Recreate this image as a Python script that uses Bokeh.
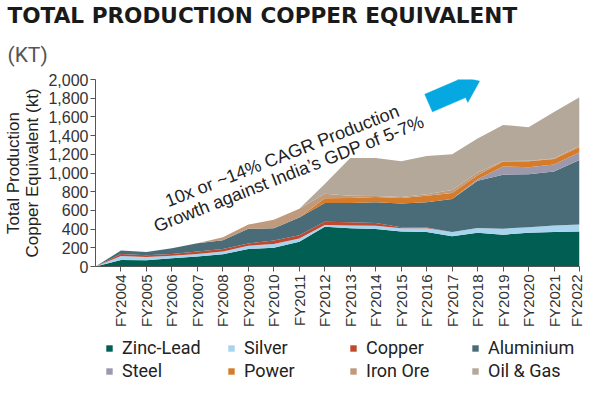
from math import pi, radians
from bokeh.plotting import figure
from bokeh.layouts import column
from bokeh.models import (ColumnDataSource, Range1d, FixedTicker, NumeralTickFormatter,
                          Legend, LegendItem, Label, Title)
from bokeh.embed import file_html
from bokeh.resources import INLINE

# ---------------- data ----------------
years = list(range(2003, 2023))
tick_years = list(range(2004, 2023))
tick_labels = ["FY%d" % y for y in tick_years]

zinc_lead = [0, 70, 66, 87, 108, 132, 188, 201, 264, 424, 410, 400, 375, 368, 323, 361, 340, 361, 368, 375]
silver    = [0, 41, 35, 28, 27, 28, 34, 39, 35, 20, 28, 35, 35, 40, 45, 52, 65, 59, 70, 73]
copper    = [0, 22, 18, 18, 25, 28, 25, 38, 34, 35, 34, 30, 10, 10, 0, 0, 0, 0, 0, 0]
aluminium = [0, 38, 35, 63, 90, 93, 156, 132, 191, 201, 208, 223, 254, 270, 354, 504, 577, 566, 579, 691]
steel     = [0, 0, 0, 0, 0, 0, 0, 0, 0, 0, 0, 0, 0, 0, 0, 15, 88, 76, 73, 83]
power     = [0, 0, 0, 0, 0, 0, 0, 0, 0, 49, 52, 55, 59, 69, 63, 45, 52, 63, 59, 56]
iron_ore  = [0, 0, 0, 0, 0, 31, 45, 90, 94, 49, 25, 10, 10, 15, 34, 28, 5, 5, 5, 15]
oil_gas   = [0, 0, 0, 0, 0, 0, 0, 0, 0, 104, 403, 408, 382, 409, 382, 364, 387, 360, 499, 516]

series_names = ["Zinc-Lead", "Silver", "Copper", "Aluminium", "Steel", "Power", "Iron Ore", "Oil & Gas"]
series_keys = ["zinc_lead", "silver", "copper", "aluminium", "steel", "power", "iron_ore", "oil_gas"]
series_colors = ["#005e52", "#a8d4f0", "#c0482d", "#4a6c78", "#9c99ad", "#d67b29", "#c09a7c", "#b3a89a"]

title_text = "TOTAL PRODUCTION COPPER EQUIVALENT"
unit_text = "(KT)"
y_label = "Total Production\nCopper Equivalent (kt)"
note_lines = ["10x or ~14% CAGR Production", "Growth against India\u2019s GDP of 5-7%"]

source = ColumnDataSource(dict(year=years, zinc_lead=zinc_lead, silver=silver, copper=copper,
                               aluminium=aluminium, steel=steel, power=power,
                               iron_ore=iron_ore, oil_gas=oil_gas))

# ---------------- main figure ----------------
W, H1, H2 = 584, 330, 51
BL, BR = 85, 5

p = figure(width=W, height=H1, x_range=Range1d(2003, 2022), y_range=Range1d(0, 2000),
           output_backend="svg", toolbar_location=None, title=None,
           min_border_left=BL, min_border_right=BR, min_border_top=0, min_border_bottom=0)
p.outline_line_color = None
p.grid.visible = False
p.background_fill_color = "white"
p.border_fill_color = "white"

renderers = p.varea_stack(stackers=series_keys, x="year", color=series_colors, source=source)

# axes
axis_col = "#555555"
for ax in (p.xaxis[0], p.yaxis[0]):
    ax.axis_line_color = axis_col
    ax.major_tick_line_color = axis_col
    ax.minor_tick_line_color = None
    ax.major_tick_in = 0
    ax.major_tick_out = 5
    ax.major_label_text_color = "#333333"
    ax.major_label_text_font = "Liberation Sans"

p.xaxis.ticker = FixedTicker(ticks=tick_years)
p.xaxis.major_label_overrides = {y: l for y, l in zip(tick_years, tick_labels)}
p.xaxis.major_label_orientation = pi / 2
p.xaxis.major_label_text_font_size = "15px"
p.xaxis.major_label_standoff = 3

p.yaxis.ticker = FixedTicker(ticks=list(range(0, 2001, 200)))
p.yaxis.formatter = NumeralTickFormatter(format="0,0")
p.yaxis.major_label_text_font_size = "16px"
p.yaxis.major_label_standoff = 2
p.yaxis.axis_label = y_label
p.yaxis.axis_label_text_font = "Liberation Sans"
p.yaxis.axis_label_text_font_style = "normal"
p.yaxis.axis_label_text_font_size = "17px"
p.yaxis.axis_label_text_color = "#222222"
p.yaxis.axis_label_standoff = 3
p.yaxis.axis_label_text_line_height = 1.05

# titles (first added sits nearest the plot)
t_unit = Title(text=unit_text, align="left", offset=-BL - 3, text_font="Roboto", text_font_style="normal",
               text_font_size="21px", text_color="#555555", standoff=26)
t_main = Title(text=title_text, align="left", offset=-BL - 3, text_font="DejaVu Sans",
               text_font_style="bold", text_font_size="21.6px", text_color="#1a1a1a", standoff=0)
p.add_layout(t_unit, "above")
p.add_layout(t_main, "above")

# reference-pixel helper for decorations (reference frame: x 93..587, y 272..80)
def px(xp, yp):
    return 2003 + (xp - 93) / 26.0, (272 - yp) * 2000 / 192.0

# annotation text
ang = radians(21.5)
for (cx, cy), txt in zip([(283.5, 158.5), (290.5, 177.0)], note_lines):
    dx, dy = px(cx, cy)
    p.add_layout(Label(x=dx, y=dy, text=txt, angle=ang, text_align="center", text_baseline="middle",
                       text_font="Liberation Sans", text_font_size="18px", text_color="#222222"))

# block arrow
arrow_px = [(436.9, 113.2), (470.8, 98.5), (473.0, 103.5), (485.0, 81.7),
            (460.8, 75.5), (463.0, 80.5), (429.1, 95.2)]
ax_, ay_ = zip(*[px(a, b) for a, b in arrow_px])
p.patch(list(ax_), list(ay_), fill_color="#05a8e0", line_color="#05a8e0", line_width=0.5)

# ---------------- legend strip ----------------
q = figure(width=W, height=H2, x_range=Range1d(0, 1), y_range=Range1d(0, 1),
           output_backend="svg", toolbar_location=None, title=None,
           x_axis_type=None, y_axis_type=None, min_border=0)
q.outline_line_color = None
q.grid.visible = False
dummies = [q.varea(x=[0, 0], y1=[0, 0], y2=[0, 0], color=c) for c in series_colors]
items = [LegendItem(label=n, renderers=[r]) for n, r in zip(series_names, dummies)]
legend = Legend(items=items, orientation="horizontal", ncols=4, location=(10, 0),
                glyph_width=8, glyph_height=8, label_standoff=9, label_width=103, label_height=20,
                spacing=2, padding=0, margin=0, border_line_color=None, background_fill_alpha=0,
                label_text_font="Roboto", label_text_font_size="18px", label_text_color="#222222")
q.add_layout(legend)

open("out.html", "w").write(file_html(column(p, q, spacing=0), INLINE))
